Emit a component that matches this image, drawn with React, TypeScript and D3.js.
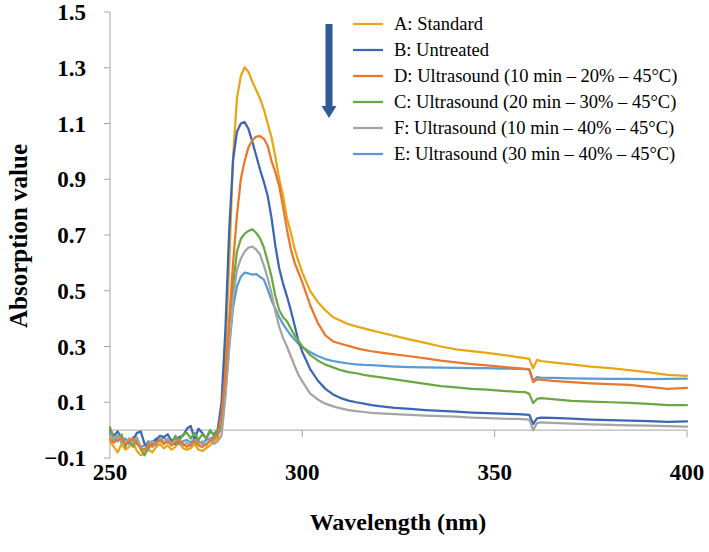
import React from "react";
import * as d3 from "d3";

const wavelengths = [
  250, 251, 252, 253, 254, 255, 256, 257, 258, 259, 260, 261, 262, 263, 264, 265, 266, 267, 268, 269,
  270, 271, 272, 273, 274, 275, 276, 277, 278, 279, 280, 281, 282, 283, 284, 285, 286, 287, 288, 289,
  290, 291, 292, 293, 294, 295, 296, 297, 298, 299, 300,
  302, 304, 306, 308, 310, 312, 314, 316, 318, 320,
  324, 328, 332, 336, 340, 344, 348, 352, 356,
  358, 359, 360, 361, 362,
  365, 370, 375, 380, 385, 390, 395, 400,
];

const seriesA = [
  -0.04, -0.06, -0.08, -0.05, -0.07, -0.06, -0.045, -0.075, -0.09, -0.085, -0.07, -0.08, -0.06, -0.05, -0.065, -0.055, -0.07, -0.06, -0.045, -0.065,
  -0.07, -0.065, -0.05, -0.07, -0.075, -0.065, -0.055, -0.04, -0.03, 0.05, 0.28, 0.6, 0.98, 1.19, 1.27, 1.302, 1.285, 1.25, 1.22, 1.19,
  1.15, 1.1, 1.05, 0.98, 0.9, 0.84, 0.76, 0.71, 0.65, 0.605, 0.565,
  0.5, 0.46, 0.43, 0.405, 0.392, 0.38, 0.372, 0.365, 0.358, 0.351,
  0.338, 0.325, 0.313, 0.3, 0.29, 0.283, 0.277, 0.27, 0.262,
  0.258, 0.256, 0.222, 0.252, 0.248,
  0.243, 0.236, 0.228, 0.222, 0.215, 0.207, 0.198, 0.195,
];

const seriesB = [
  0.0, -0.02, -0.005, -0.03, -0.05, -0.04, -0.035, -0.01, -0.005, -0.05, -0.065, -0.04, -0.035, -0.02, -0.025, -0.015, -0.04, -0.05, -0.025, -0.02,
  0.005, 0.015, -0.035, 0.005, -0.01, -0.03, -0.005, -0.015, 0.0, 0.1, 0.36, 0.72, 0.97, 1.07, 1.1, 1.105, 1.08, 1.035, 0.985, 0.935,
  0.89, 0.84, 0.76, 0.66, 0.58, 0.525, 0.48, 0.43, 0.375, 0.32, 0.28,
  0.22, 0.178, 0.148, 0.128, 0.115, 0.106, 0.1, 0.095, 0.09, 0.086,
  0.08, 0.076, 0.072, 0.069, 0.066, 0.063, 0.061, 0.059, 0.057,
  0.056, 0.055, 0.022, 0.042, 0.045,
  0.044, 0.041, 0.038, 0.036, 0.034, 0.032, 0.03, 0.031,
];

const seriesD = [
  -0.03, -0.045, -0.035, -0.03, -0.05, -0.04, -0.03, -0.05, -0.065, -0.07, -0.05, -0.06, -0.045, -0.035, -0.05, -0.04, -0.055, -0.045, -0.035, -0.05,
  -0.06, -0.05, -0.04, -0.055, -0.06, -0.05, -0.04, -0.03, -0.02, 0.06, 0.2, 0.4, 0.6, 0.77, 0.9, 0.965, 1.015, 1.04, 1.053, 1.055,
  1.045, 1.02, 0.965, 0.925, 0.875, 0.8, 0.72, 0.65, 0.6, 0.565, 0.53,
  0.45, 0.385, 0.34, 0.318, 0.31, 0.302, 0.294, 0.288, 0.283, 0.279,
  0.272, 0.265, 0.257, 0.249, 0.243, 0.237, 0.232, 0.227, 0.222,
  0.22, 0.218, 0.172, 0.182, 0.181,
  0.177, 0.172, 0.168, 0.165, 0.162, 0.155, 0.148, 0.152,
];

const seriesC = [
  0.01, -0.03, -0.04, -0.015, -0.06, -0.03, -0.06, -0.03, -0.07, -0.09, -0.06, -0.04, -0.05, -0.03, -0.045, -0.035, -0.05, -0.02, -0.04, -0.015,
  -0.01, -0.03, -0.01, -0.035, -0.015, -0.03, 0.0, -0.02, 0.0, 0.01, 0.14, 0.33, 0.52, 0.64, 0.685, 0.705, 0.715, 0.72, 0.708, 0.688,
  0.655, 0.605, 0.55, 0.48, 0.43, 0.405, 0.39, 0.365, 0.34, 0.32, 0.3,
  0.27, 0.25, 0.235, 0.225, 0.215, 0.208, 0.204, 0.198, 0.194, 0.19,
  0.182, 0.174, 0.166, 0.158, 0.153, 0.148, 0.145, 0.141, 0.137,
  0.136, 0.13, 0.097, 0.112, 0.115,
  0.111, 0.105, 0.102, 0.1, 0.098, 0.094, 0.09, 0.09,
];

const seriesF = [
  -0.02, -0.03, -0.015, -0.04, -0.05, -0.03, -0.045, -0.025, -0.06, -0.075, -0.05, -0.04, -0.055, -0.03, -0.045, -0.03, -0.05, -0.04, -0.035, -0.055,
  -0.045, -0.06, -0.035, -0.05, -0.04, -0.055, -0.035, -0.05, -0.04, -0.02, 0.12, 0.3, 0.47, 0.575, 0.615, 0.64, 0.655, 0.658, 0.648, 0.63,
  0.59, 0.545, 0.49, 0.425, 0.37, 0.33, 0.3, 0.265, 0.23, 0.198, 0.175,
  0.132, 0.11, 0.095, 0.085, 0.078, 0.072, 0.068, 0.065, 0.062, 0.06,
  0.057, 0.055, 0.052, 0.05, 0.048, 0.045, 0.043, 0.041, 0.04,
  0.039, 0.038, 0.0, 0.025, 0.028,
  0.026, 0.023, 0.021, 0.019, 0.017, 0.016, 0.014, 0.013,
];

const seriesE = [
  -0.01, -0.035, -0.02, -0.045, -0.03, -0.05, -0.025, -0.04, -0.06, -0.055, -0.04, -0.05, -0.03, -0.04, -0.025, -0.045, -0.035, -0.03, -0.05, -0.04,
  -0.035, -0.045, -0.03, -0.04, -0.05, -0.035, -0.03, -0.025, -0.01, 0.0, 0.13, 0.3, 0.44, 0.515, 0.55, 0.565, 0.562, 0.558, 0.56, 0.55,
  0.54, 0.505, 0.465, 0.435, 0.405, 0.38, 0.36, 0.34, 0.325, 0.31, 0.298,
  0.28, 0.266, 0.255, 0.248, 0.243, 0.239, 0.236, 0.234, 0.233, 0.231,
  0.228, 0.226, 0.225, 0.224, 0.223, 0.222, 0.222, 0.221, 0.22,
  0.219, 0.218, 0.178, 0.19, 0.188,
  0.187, 0.186, 0.185, 0.184, 0.184, 0.183, 0.184, 0.185,
];

const legendLabels = [
  "A: Standard",
  "B: Untreated",
  "D: Ultrasound (10 min \u2013 20% \u2013 45\u00B0C)",
  "C: Ultrasound (20 min \u2013 30% \u2013 45\u00B0C)",
  "F: Ultrasound (10 min \u2013 40% \u2013 45\u00B0C)",
  "E: Ultrasound (30 min \u2013 40% \u2013 45\u00B0C)",
];
const legendColors = ["#E8A614", "#3A66B5", "#E9772E", "#6AA842", "#A5A5A5", "#5B9BD5"];
const legendValues = [seriesA, seriesB, seriesD, seriesC, seriesF, seriesE];

const yTicks = [-0.1, 0.1, 0.3, 0.5, 0.7, 0.9, 1.1, 1.3, 1.5];
const xTicks = [250, 300, 350, 400];

const drawOrder = [0, 5, 1, 3, 4, 2];

const SERIF = "Liberation Serif";

export default function App() {
  const W = 709;
  const H = 552;
  const x = d3.scaleLinear().domain([250, 400]).range([110, 687]);
  const y = d3.scaleLinear().domain([-0.1, 1.5]).range([458, 12]);
  const line = d3
    .line<number>()
    .x((_, i) => x(wavelengths[i]))
    .y((d) => y(d));

  const axisColor = "#A6A6A6";
  const y0 = y(0);
  const boldText = { fontFamily: SERIF, fontWeight: 700 as const };

  return (
    <svg
      width={W}
      height={H}
      style={{ position: "absolute", left: 0, top: 0, background: "#fff" }}
    >
      {/* Y axis */}
      <line x1={x(250)} x2={x(250)} y1={y(1.5)} y2={y(-0.1)} stroke={axisColor} strokeWidth={1} />
      {yTicks.map((t) => (
        <g key={"yt" + t}>
          <line x1={x(250) - 6} x2={x(250)} y1={y(t)} y2={y(t)} stroke={axisColor} strokeWidth={1} />
          <text
            x={86}
            y={y(t)}
            dy="0.35em"
            textAnchor="end"
            style={{ ...boldText, fontSize: 23 }}
            fill="#000"
          >
            {t < 0 ? "\u2212" + Math.abs(t).toFixed(1) : t.toFixed(1)}
          </text>
        </g>
      ))}
      {/* X axis at y = 0 */}
      <line x1={x(250)} x2={x(400)} y1={y0} y2={y0} stroke={axisColor} strokeWidth={1} />
      {xTicks.map((t) => (
        <g key={"xt" + t}>
          <line x1={x(t)} x2={x(t)} y1={y0} y2={y0 + 7} stroke={axisColor} strokeWidth={1} />
          <text
            x={x(t)}
            y={480}
            textAnchor="middle"
            style={{ ...boldText, fontSize: 23 }}
            fill="#000"
          >
            {t}
          </text>
        </g>
      ))}

      {/* Series */}
      {drawOrder.map((k) => (
        <path
          key={"s" + k}
          d={line(legendValues[k]) || ""}
          fill="none"
          stroke={legendColors[k]}
          strokeWidth={2.25}
          strokeLinejoin="round"
          strokeLinecap="round"
        />
      ))}

      {/* Axis titles */}
      <text
        transform={`translate(27, 236) rotate(-90)`}
        textAnchor="middle"
        style={{ ...boldText, fontSize: 25 }}
        fill="#000"
      >
        Absorption value
      </text>
      <text
        x={398}
        y={530}
        textAnchor="middle"
        style={{ ...boldText, fontSize: 24 }}
        fill="#000"
      >
        Wavelength (nm)
      </text>

      {/* Legend */}
      {legendLabels.map((lab, i) => {
        const cy = 24 + i * 26;
        return (
          <g key={"lg" + i}>
            <line x1={353} x2={383} y1={cy} y2={cy} stroke={legendColors[i]} strokeWidth={2.25} />
            <text
              x={394}
              y={cy}
              dy="0.35em"
              style={{ fontFamily: SERIF, fontSize: 18.5 }}
              fill="#000"
            >
              {lab}
            </text>
          </g>
        );
      })}

      {/* Arrow */}
      <rect x={325.5} y={24} width={7} height={84} fill="#2F5C98" />
      <path d="M 321.5 106 L 336.5 106 L 329 118 Z" fill="#2F5C98" />
    </svg>
  );
}
